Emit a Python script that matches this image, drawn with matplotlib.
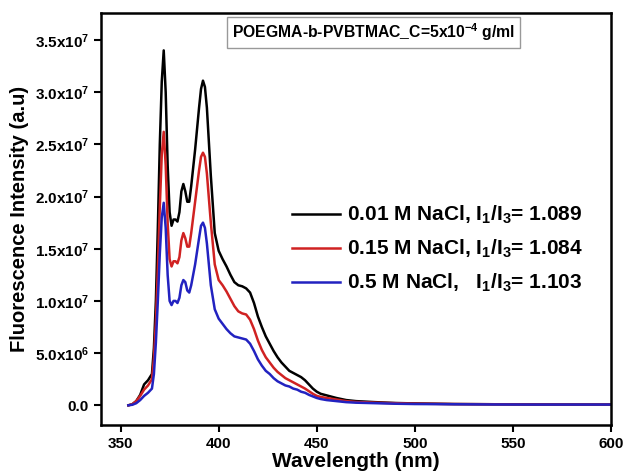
import matplotlib
matplotlib.use("Agg")
import matplotlib.pyplot as plt
import numpy as np
from matplotlib.ticker import FixedLocator, FixedFormatter

plt.rcParams['font.family'] = 'Liberation Sans'
plt.rcParams['font.weight'] = 'bold'
plt.rcParams['mathtext.fontset'] = 'custom'
plt.rcParams['mathtext.rm'] = 'Liberation Sans:bold'
plt.rcParams['mathtext.it'] = 'Liberation Sans:bold'
plt.rcParams['mathtext.bf'] = 'Liberation Sans:bold'

# wavelength (nm)
wavelength = [354, 356, 358, 360, 362, 364, 366, 367, 368, 369, 370, 371, 372, 373, 374,
              375, 376, 377, 378, 379, 380, 381, 382, 383, 384, 385, 386, 388, 390, 391,
              392, 393, 394, 396, 398, 400, 402, 404, 406, 408, 410, 412, 414, 416, 418,
              420, 422, 424, 426, 428, 430, 432, 434, 436, 438, 440, 442, 444, 446, 448,
              450, 452, 455, 460, 465, 470, 480, 490, 500, 520, 540, 560, 580, 600]

# intensities in units of 1e6
nacl_001 = [0.0, 0.1, 0.4, 1.0, 2.0, 2.4, 3.0, 5.5, 10, 17, 25, 31, 34, 30, 23,
            18.5, 17.2, 17.8, 17.8, 17.6, 18.5, 20.5, 21.2, 20.5, 19.5, 19.5, 21, 24.5, 28.5, 30.3,
            31.1, 30.5, 28.5, 22, 16.5, 14.8, 14, 13.3, 12.5, 11.8, 11.5, 11.4, 11.2, 10.8, 9.8,
            8.5, 7.5, 6.6, 5.9, 5.2, 4.6, 4.1, 3.7, 3.3, 3.1, 2.9, 2.7, 2.4, 2.0, 1.6,
            1.3, 1.1, 0.95, 0.7, 0.5, 0.4, 0.3, 0.22, 0.18, 0.12, 0.1, 0.08, 0.07, 0.07]
nacl_015 = [0.0, 0.1, 0.4, 0.9, 1.5, 1.9, 2.5, 4.5, 8, 13, 19, 24, 26.2, 23, 17.5,
            14, 13.3, 13.8, 13.8, 13.6, 14.2, 15.8, 16.5, 16.0, 15.2, 15.2, 16.5, 19.5, 22.5, 23.8,
            24.2, 23.8, 22.2, 17.5, 13.5, 12.0, 11.5, 10.9, 10.2, 9.5, 9.0, 8.8, 8.7, 8.2, 7.3,
            6.2, 5.3, 4.6, 4.1, 3.6, 3.2, 2.9, 2.6, 2.4, 2.2, 2.0, 1.8, 1.6, 1.35, 1.1,
            0.9, 0.8, 0.7, 0.55, 0.4, 0.32, 0.25, 0.2, 0.16, 0.12, 0.1, 0.08, 0.07, 0.07]
nacl_05 = [0.0, 0.05, 0.2, 0.5, 0.9, 1.2, 1.6, 3, 6, 10, 14.5, 18, 19.4, 17, 12.5,
           10, 9.6, 10.0, 10.0, 9.8, 10.3, 11.5, 12.0, 11.8, 11.0, 10.8, 11.5, 13.5, 16, 17.2,
           17.5, 17.0, 15.5, 11.5, 9.2, 8.3, 7.8, 7.3, 6.9, 6.6, 6.5, 6.4, 6.3, 5.9, 5.2,
           4.4, 3.8, 3.3, 3.0, 2.6, 2.3, 2.1, 1.9, 1.8, 1.6, 1.5, 1.3, 1.2, 1.0, 0.85,
           0.7, 0.6, 0.5, 0.4, 0.3, 0.25, 0.2, 0.15, 0.12, 0.1, 0.08, 0.07, 0.07, 0.07]

labels = ['0.01 M NaCl, I$_1$/I$_3$= 1.089',
          '0.15 M NaCl, I$_1$/I$_3$= 1.084',
          '0.5 M NaCl,   I$_1$/I$_3$= 1.103']
colors = ['black', '#d02222', '#2222c0']

y_ticks = [0, 5e6, 1e7, 1.5e7, 2e7, 2.5e7, 3e7, 3.5e7]
y_tick_labels = ['0.0', '5.0x10$^6$', '1.0x10$^7$', '1.5x10$^7$', '2.0x10$^7$',
                 '2.5x10$^7$', '3.0x10$^7$', '3.5x10$^7$']
x_ticks = [350, 400, 450, 500, 550, 600]

fig = plt.figure(figsize=(6.23, 4.75), dpi=100)
ax = fig.add_axes([0.162, 0.105, 0.819, 0.868])

wl = np.array(wavelength)
for series, col, lab in zip([nacl_001, nacl_015, nacl_05], colors, labels):
    ax.plot(wl, np.array(series) * 1e6, color=col, lw=1.8, label=lab)

ax.set_xlim(340, 600)
ax.set_ylim(-1.9e6, 3.76e7)
ax.xaxis.set_major_locator(FixedLocator(x_ticks))
ax.yaxis.set_major_locator(FixedLocator(y_ticks))
ax.yaxis.set_major_formatter(FixedFormatter(y_tick_labels))
ax.tick_params(direction='out', length=5, width=1.5, labelsize=11, top=False, right=False)
for s in ax.spines.values():
    s.set_linewidth(1.8)

ax.set_xlabel('Wavelength (nm)', fontsize=15, fontweight='bold', labelpad=1)
ax.set_ylabel('Fluorescence Intensity (a.u)', fontsize=14.5, fontweight='bold', labelpad=4)

ax.legend(loc='upper left', bbox_to_anchor=(0.3745, 0.536), frameon=False, fontsize=15,
          handlelength=2.3, handletextpad=0.33, labelspacing=0.56,
          borderpad=0, borderaxespad=0)

ax.text(0.534, 0.953, 'POEGMA-b-PVBTMAC_C=5x10$^{-4}$ g/ml', transform=ax.transAxes,
        ha='center', va='center', fontsize=11.3, fontweight='bold',
        bbox=dict(boxstyle='square,pad=0.3', fc='white', ec='#999999', lw=1))

fig.savefig('out.png', dpi=100)
